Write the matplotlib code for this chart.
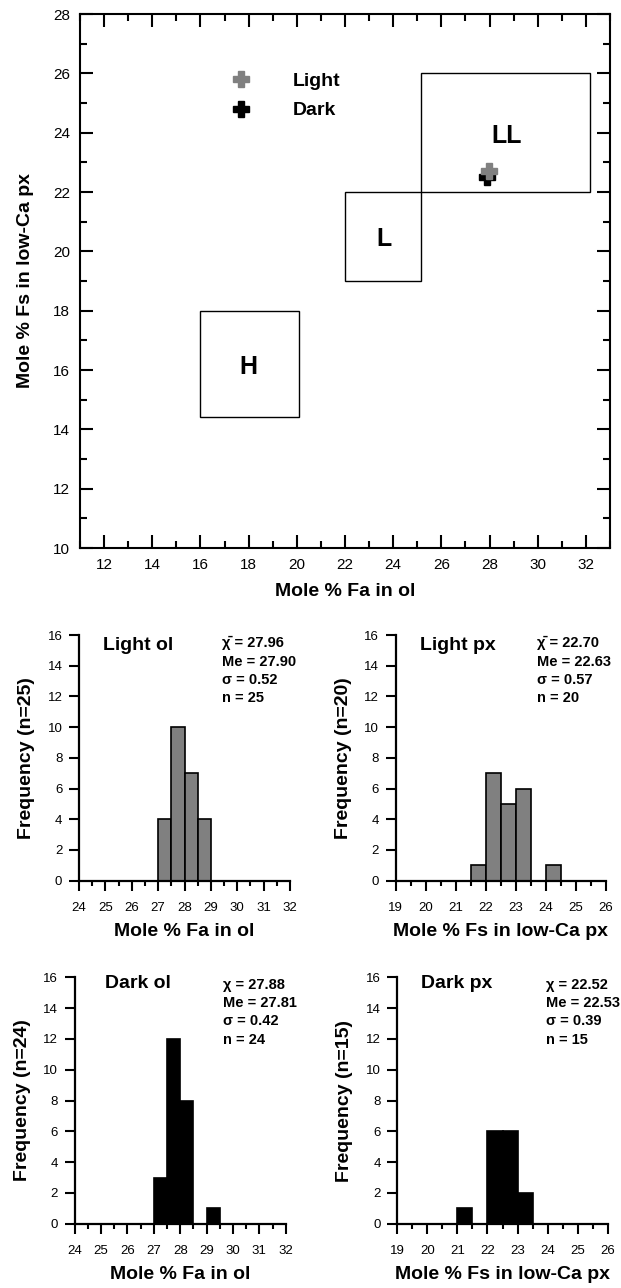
import numpy as np
import matplotlib.pyplot as plt
from matplotlib.patches import Rectangle
from matplotlib.ticker import MultipleLocator

plt.rcParams['font.family'] = ['Liberation Sans', 'DejaVu Sans']

# chondrite group fields: Fa (ol) range, Fs (px) range
groups = ['H', 'L', 'LL']
fa_lo = [16.0, 22.0, 25.15]
fa_hi = [20.1, 25.15, 32.15]
fs_lo = [14.4, 19.0, 22.0]
fs_hi = [18.0, 22.0, 26.0]
label_fa = [18.0, 23.6, 28.7]
label_fs = [16.1, 20.4, 23.9]

# mean compositions
light_fa, light_fs = 27.96, 22.70
dark_fa, dark_fs = 27.88, 22.52

# histograms (0.5 mol% bins, left edges)
light_ol_bins = [27.0, 27.5, 28.0, 28.5]
light_ol_counts = [4, 10, 7, 4]
light_px_bins = [21.5, 22.0, 22.5, 23.0, 24.0]
light_px_counts = [1, 7, 5, 6, 1]
dark_ol_bins = [27.0, 27.5, 28.0, 29.0]
dark_ol_counts = [3, 12, 8, 1]
dark_px_bins = [21.0, 22.0, 22.5, 23.0]
dark_px_counts = [1, 6, 6, 2]

light_ol_stats = "\u03c7\u0304 = 27.96\nMe = 27.90\n\u03c3 = 0.52\nn = 25"
light_px_stats = "\u03c7\u0304 = 22.70\nMe = 22.63\n\u03c3 = 0.57\nn = 20"
dark_ol_stats = "\u03c7 = 27.88\nMe = 27.81\n\u03c3 = 0.42\nn = 24"
dark_px_stats = "\u03c7 = 22.52\nMe = 22.53\n\u03c3 = 0.39\nn = 15"

W, H = 621, 1288
fig = plt.figure(figsize=(W/100, H/100), dpi=100)


def box(l, t, r, b):
    return [l/W, 1 - b/H, (r - l)/W, (b - t)/H]


# ---- top scatter plot ----
ax = fig.add_axes(box(80, 14, 610, 548))
for g, x0, x1, y0, y1, lx, ly in zip(groups, fa_lo, fa_hi, fs_lo, fs_hi, label_fa, label_fs):
    ax.add_patch(Rectangle((x0, y0), x1 - x0, y1 - y0, fill=False, lw=1.0, ec='black'))
    ax.text(lx, ly, g, fontsize=18, fontweight='bold', ha='center', va='center')

ax.plot([dark_fa], [dark_fs], ls='none', marker='P', ms=11, color='black', mec='black', label='Dark')
ax.plot([light_fa], [light_fs], ls='none', marker='P', ms=11, color='#808080', mec='#808080', label='Light')
h, l = ax.get_legend_handles_labels()
ax.legend(h[::-1], l[::-1], loc='upper left', bbox_to_anchor=(0.27, 0.905), frameon=False,
          prop={'weight': 'bold', 'size': 14}, handletextpad=2.2, labelspacing=0.6,
          handlelength=1.0, borderaxespad=0)

ax.set_xlim(11, 33)
ax.set_ylim(10, 28)
ax.xaxis.set_major_locator(MultipleLocator(2))
ax.xaxis.set_minor_locator(MultipleLocator(1))
ax.yaxis.set_major_locator(MultipleLocator(2))
ax.yaxis.set_minor_locator(MultipleLocator(1))
ax.set_xticks(np.arange(12, 33, 2))
ax.tick_params(which='both', direction='in', top=True, right=True, width=1.5, labelsize=11, pad=7)
ax.tick_params(which='major', length=9.5)
ax.tick_params(which='minor', length=5)
for s in ax.spines.values():
    s.set_linewidth(1.5)
ax.set_xlabel('Mole % Fa in ol', fontsize=14, fontweight='bold', labelpad=8)
ax.set_ylabel('Mole % Fs in low-Ca px', fontsize=14, fontweight='bold', labelpad=14)


def hist(rect, bins, counts, color, xlim, title, stats, tpos, spos, ylab, xlab):
    a = fig.add_axes(rect)
    a.bar(bins, counts, width=0.5, align='edge', color=color, edgecolor='black', lw=1.2)
    a.set_xlim(*xlim)
    a.set_ylim(0, 16)
    a.spines['top'].set_visible(False)
    a.spines['right'].set_visible(False)
    for s in ('left', 'bottom'):
        a.spines[s].set_linewidth(1.6)
    a.set_xticks(np.arange(xlim[0], xlim[1] + 1, 1))
    a.xaxis.set_minor_locator(MultipleLocator(0.5))
    a.set_yticks(np.arange(0, 17, 2))
    a.tick_params(which='both', direction='out', width=1.5, labelsize=9.5)
    a.tick_params(axis='x', which='major', length=7, pad=8)
    a.tick_params(axis='x', which='minor', length=3.5)
    a.tick_params(axis='y', which='major', length=7, pad=5)
    a.text(tpos[0], tpos[1], title, transform=a.transAxes, fontsize=14, fontweight='bold',
           ha='left', va='center')
    a.text(spos[0], spos[1], stats, transform=a.transAxes, fontsize=10.5, fontweight='bold',
           ha='left', va='top', linespacing=1.38)
    a.set_ylabel(ylab, fontsize=14, fontweight='bold', labelpad=9)
    a.set_xlabel(xlab, fontsize=14, fontweight='bold', labelpad=7)
    return a


hist(box(79, 635, 290, 880.7), light_ol_bins, light_ol_counts, '#808080', (24, 32),
     'Light ol', light_ol_stats, (0.114, 0.958), (0.676, 0.995), 'Frequency (n=25)', 'Mole % Fa in ol')
hist(box(395.7, 635, 606, 880.7), light_px_bins, light_px_counts, '#808080', (19, 26),
     'Light px', light_px_stats, (0.116, 0.958), (0.67, 0.995), 'Frequency (n=20)', 'Mole % Fs in low-Ca px')
hist(box(74.7, 977.3, 285.7, 1223.7), dark_ol_bins, dark_ol_counts, 'black', (24, 32),
     'Dark ol', dark_ol_stats, (0.144, 0.976), (0.704, 0.997), 'Frequency (n=24)', 'Mole % Fa in ol')
hist(box(397.3, 977.3, 607.7, 1223.7), dark_px_bins, dark_px_counts, 'black', (19, 26),
     'Dark px', dark_px_stats, (0.113, 0.976), (0.707, 0.997), 'Frequency (n=15)', 'Mole % Fs in low-Ca px')

fig.savefig('out.png', dpi=100)
